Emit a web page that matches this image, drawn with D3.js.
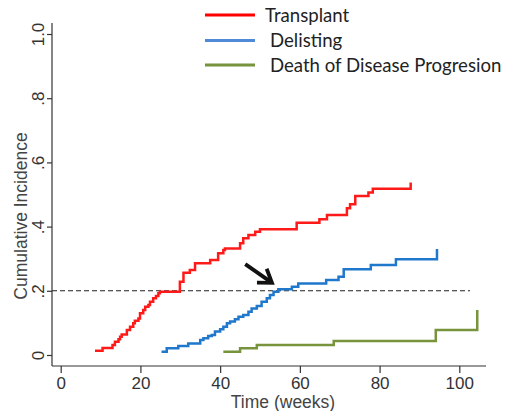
<!DOCTYPE html>
<html><head><meta charset="utf-8">
<script src="https://cdn.jsdelivr.net/npm/d3@7"></script>
<style>body{margin:0;background:#fff}svg{display:block}</style>
</head><body><svg id="c" width="506" height="411"></svg>
<script>
// ---- data ----
const xTicks = [0, 20, 40, 60, 80, 100];
const yTicks = [0, 0.2, 0.4, 0.6, 0.8, 1.0];
const yTickLabels = ["0", ".2", ".4", ".6", ".8", "1.0"];
const seriesNames = ["Transplant", "Delisting", "Death of Disease Progresion"];

const transplantWeeks = [8.6, 10.5, 13.0, 13.6, 14.5, 14.9, 15.3, 16.6, 17.4, 18.2, 18.6, 19.5, 19.9, 20.7, 21.2, 22.0, 22.4, 23.2, 23.9, 24.5, 24.9, 29.9, 30.8, 32.4, 33.7, 37.5, 39.5, 40.8, 41.2, 45.0, 45.8, 47.1, 48.8, 50.0, 59.2, 64.9, 66.8, 71.8, 72.6, 73.9, 77.2, 78.3, 87.8];
const transplantCI = [0.013, 0.022, 0.031, 0.041, 0.049, 0.057, 0.064, 0.078, 0.088, 0.099, 0.107, 0.114, 0.130, 0.140, 0.150, 0.156, 0.166, 0.177, 0.184, 0.192, 0.197, 0.228, 0.256, 0.265, 0.286, 0.296, 0.317, 0.327, 0.332, 0.348, 0.364, 0.374, 0.384, 0.392, 0.412, 0.423, 0.436, 0.457, 0.470, 0.495, 0.506, 0.518, 0.537];

const delistWeeks = [25.3, 26.6, 29.5, 32.0, 35.0, 35.8, 37.0, 37.9, 38.7, 40.0, 40.8, 41.7, 42.5, 43.7, 44.6, 45.8, 47.1, 47.9, 49.2, 50.4, 51.7, 52.5, 53.4, 54.6, 58.0, 59.6, 66.6, 69.7, 71.0, 77.8, 84.1, 94.4];
const delistCI = [0.010, 0.021, 0.028, 0.036, 0.047, 0.052, 0.059, 0.062, 0.073, 0.080, 0.088, 0.099, 0.104, 0.111, 0.119, 0.125, 0.135, 0.145, 0.153, 0.166, 0.177, 0.187, 0.197, 0.205, 0.213, 0.223, 0.234, 0.244, 0.267, 0.280, 0.298, 0.330];

const deathWeeks = [40.8, 45.0, 49.2, 68.5, 94.1, 104.5];
const deathCI = [0.010, 0.021, 0.031, 0.044, 0.078, 0.140];

const refLineValue = 0.2;
const refLineEnd = 102.7;
const arrowFrom = [46.3, 0.283];
const arrowTo = [53.0, 0.225];

// ---- layout ----
const svg = d3.select("#c");
const x = d3.scaleLinear().domain([0, 100]).range([60.7, 459.3]);
const y = d3.scaleLinear().domain([0, 1]).range([355, 34]);
const axisX = 52, axisY = 366;
const axisColor = "#333";
const font = "'Liberation Sans', Arial, sans-serif";

// axis lines
svg.append("line").attr("x1", axisX).attr("x2", axisX).attr("y1", 23).attr("y2", axisY)
  .attr("stroke", axisColor).attr("stroke-width", 1.2);
svg.append("line").attr("x1", axisX).attr("x2", 486).attr("y1", axisY).attr("y2", axisY)
  .attr("stroke", axisColor).attr("stroke-width", 1.2);

// x axis
const gx = svg.append("g").attr("transform", `translate(0,${axisY})`)
  .call(d3.axisBottom(x).tickValues(xTicks).tickSize(7).tickSizeOuter(0).tickPadding(4));
gx.select(".domain").remove();
gx.selectAll("line").attr("stroke", axisColor).attr("stroke-width", 1.2);
gx.selectAll("text").attr("font-family", font).attr("font-size", 17).attr("fill", "#333");

// y axis
const gy = svg.append("g").attr("transform", `translate(${axisX},0)`)
  .call(d3.axisLeft(y).tickValues(yTicks).tickSize(5).tickSizeOuter(0)
    .tickFormat((d, i) => yTickLabels[i]));
gy.select(".domain").remove();
gy.selectAll("line").attr("stroke", axisColor).attr("stroke-width", 1.2);
gy.selectAll("text").attr("font-family", font).attr("font-size", 17).attr("fill", "#333")
  .attr("x", null).attr("dy", null).attr("text-anchor", "middle")
  .attr("transform", "translate(-8.5,0) rotate(-90)");

// axis titles
svg.append("text").attr("x", 283).attr("y", 408).attr("text-anchor", "middle")
  .attr("font-family", font).attr("font-size", 17.5).attr("fill", "#444").text("Time (weeks)");
svg.append("text").attr("transform", "translate(27,216) rotate(-90)").attr("text-anchor", "middle")
  .attr("font-family", font).attr("font-size", 17.5).attr("fill", "#444").text("Cumulative Incidence");

// reference dashed line
svg.append("line").attr("x1", axisX).attr("x2", x(refLineEnd))
  .attr("y1", y(refLineValue)).attr("y2", y(refLineValue))
  .attr("stroke", "#222").attr("stroke-width", 1.1).attr("stroke-dasharray", "5,3");

// curves
const line = d3.line().x(d => x(d[0])).y(d => y(d[1])).curve(d3.curveStepAfter);
const series = [
  {w: transplantWeeks, v: transplantCI, color: "#ff1a1a"},
  {w: delistWeeks, v: delistCI, color: "#1f78cc"},
  {w: deathWeeks, v: deathCI, color: "#77933c"}
];
series.forEach(s => {
  svg.append("path").datum(s.w.map((w, i) => [w, s.v[i]]))
    .attr("d", line).attr("fill", "none").attr("stroke", s.color)
    .attr("stroke-width", 2.5).attr("stroke-linejoin", "miter");
});

// arrow
const ax0 = x(arrowFrom[0]), ay0 = y(arrowFrom[1]), ax1 = x(arrowTo[0]), ay1 = y(arrowTo[1]);
const ang = Math.atan2(ay1 - ay0, ax1 - ax0);
const hl = 15, ha = 0.6;
svg.append("line").attr("x1", ax0).attr("y1", ay0).attr("x2", ax1 - 2 * Math.cos(ang)).attr("y2", ay1 - 2 * Math.sin(ang))
  .attr("stroke", "#111").attr("stroke-width", 3.8);
svg.append("path").attr("d",
  `M${ax1 - hl * Math.cos(ang - ha)},${ay1 - hl * Math.sin(ang - ha)}L${ax1},${ay1}L${ax1 - hl * Math.cos(ang + ha)},${ay1 - hl * Math.sin(ang + ha)}`)
  .attr("fill", "none").attr("stroke", "#111").attr("stroke-width", 3.8).attr("stroke-linejoin", "miter");

// legend
const legendColors = ["#ff0000", "#4f8ad6", "#77933c"];
const legendY = [15, 40.5, 65];
const legendTextX = [265, 270, 270];
seriesNames.forEach((n, i) => {
  svg.append("line").attr("x1", 205).attr("x2", 255).attr("y1", legendY[i]).attr("y2", legendY[i])
    .attr("stroke", legendColors[i]).attr("stroke-width", 3);
  svg.append("text").attr("x", legendTextX[i]).attr("y", legendY[i]).attr("dy", "0.35em")
    .attr("font-family", "Lato, 'Open Sans', sans-serif").attr("font-size", 18.6).attr("fill", "#222").text(n);
});
</script></body></html>
